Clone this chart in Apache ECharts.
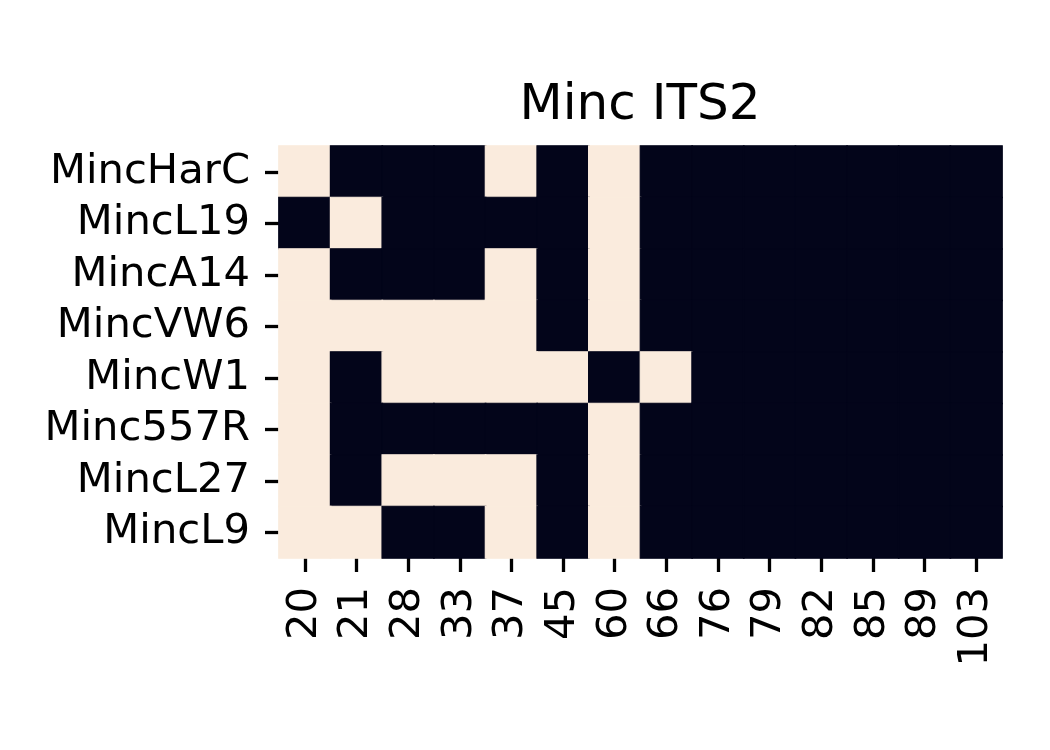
<!DOCTYPE html>
<html>
<head>
<meta charset="utf-8">
<script src="https://cdn.jsdelivr.net/npm/echarts@6/dist/echarts.min.js"></script>
<style>html,body{margin:0;padding:0;background:#fff;}#c{width:1050px;height:750px;}</style>
</head>
<body>
<div id="c"></div>
<script>
const columns = ['20','21','28','33','37','45','60','66','76','79','82','85','89','103'];
const rows = ['MincHarC','MincL19','MincA14','MincVW6','MincW1','Minc557R','MincL27','MincL9'];
const MincHarC = [1,0,0,0,1,0,1,0,0,0,0,0,0,0];
const MincL19  = [0,1,0,0,0,0,1,0,0,0,0,0,0,0];
const MincA14  = [1,0,0,0,1,0,1,0,0,0,0,0,0,0];
const MincVW6  = [1,1,1,1,1,0,1,0,0,0,0,0,0,0];
const MincW1   = [1,0,1,1,1,1,0,1,0,0,0,0,0,0];
const Minc557R = [1,0,0,0,0,0,1,0,0,0,0,0,0,0];
const MincL27  = [1,0,1,1,1,0,1,0,0,0,0,0,0,0];
const MincL9   = [1,1,0,0,1,0,1,0,0,0,0,0,0,0];
const matrix = [MincHarC, MincL19, MincA14, MincVW6, MincW1, Minc557R, MincL27, MincL9];

const DARK = '#03051a', LIGHT = '#faebdd';
const data = [];
matrix.forEach((row, r) => row.forEach((v, c) => data.push({
  value: [c, r, v],
  itemStyle: {borderWidth: 1.2, borderColor: v ? LIGHT : DARK}
})));

const FONT = 'DejaVu Sans';
const chart = echarts.init(document.getElementById('c'), null, {renderer: 'canvas'});
chart.setOption({
  backgroundColor: '#ffffff',
  animation: false,
  title: {
    text: 'Minc ITS2',
    left: 635, textAlign: 'center',
    top: 76,
    textStyle: {fontFamily: FONT, fontSize: 50, fontWeight: 'normal', color: '#000'}
  },
  grid: {left: 279, right: 48, top: 146, bottom: 192, containLabel: false},
  xAxis: {
    type: 'category', data: columns,
    axisLine: {show: false},
    axisTick: {show: true, interval: 0, alignWithLabel: true, length: 14, lineStyle: {width: 3.3, color: '#000'}},
    axisLabel: {interval: 0, rotate: 90, margin: 29, fontFamily: FONT, fontSize: 41.7, color: '#000'},
    splitLine: {show: false}, splitArea: {show: false}
  },
  yAxis: {
    type: 'category', data: rows, inverse: true,
    axisLine: {show: false},
    axisTick: {show: true, interval: 0, alignWithLabel: true, length: 14, lineStyle: {width: 3.3, color: '#000'}},
    axisLabel: {interval: 0, margin: 29, fontFamily: FONT, fontSize: 41.7, color: '#000'},
    splitLine: {show: false}, splitArea: {show: false}
  },
  visualMap: {
    show: false, type: 'piecewise', dimension: 2,
    pieces: [{value: 0, color: DARK}, {value: 1, color: LIGHT}]
  },
  series: [{
    type: 'heatmap', data: data,
    emphasis: {disabled: true}
  }]
});
</script>
</body>
</html>
